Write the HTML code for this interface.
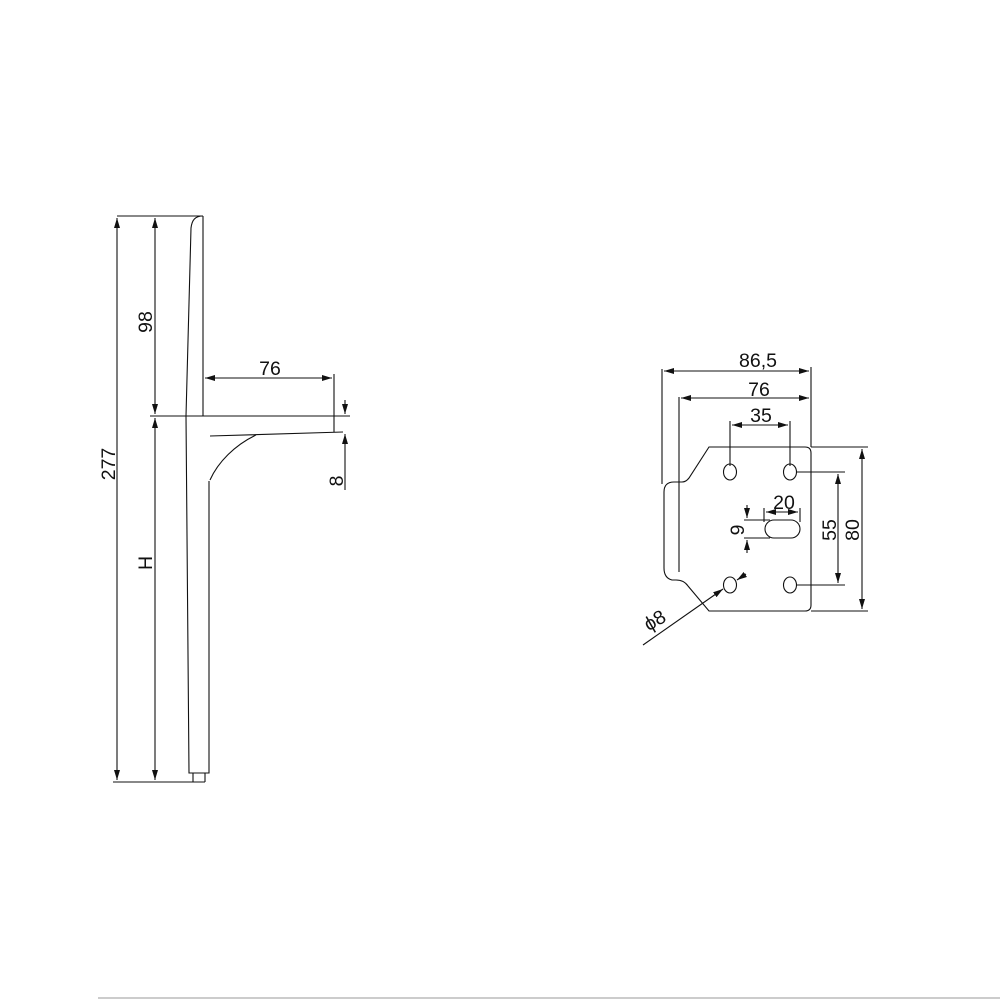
<!DOCTYPE html>
<html><head><style>body{margin:0;background:#fff}svg{display:block}</style></head><body>
<svg width="1000" height="1000" viewBox="0 0 1000 1000" font-family="Liberation Sans, sans-serif" font-size="19.5" fill="none" stroke="#111" stroke-width="1.1">
<defs>
<marker id="a" viewBox="0 0 10 6" refX="10" refY="3" markerWidth="10" markerHeight="6" orient="auto-start-reverse" markerUnits="userSpaceOnUse"><path d="M0,0 L10,3 L0,6z" fill="#111" stroke="none"/></marker>
</defs>
<line x1="117" y1="216" x2="203" y2="216"/>
<line x1="117" y1="218" x2="117" y2="780" marker-start="url(#a)" marker-end="url(#a)"/>
<line x1="155" y1="218" x2="155" y2="414" marker-start="url(#a)" marker-end="url(#a)"/>
<line x1="155" y1="418" x2="155" y2="780" marker-start="url(#a)" marker-end="url(#a)"/>
<line x1="113" y1="782" x2="205" y2="782"/>
<path d="M203,216 C195,216 192,220 191,228 L186,416 L189,773 L209,773 L209,481"/>
<line x1="203" y1="216" x2="203" y2="416"/>
<path d="M193,773 L193,782 M205,773 L205,782"/>
<line x1="150" y1="416" x2="350" y2="416"/>
<path d="M210,436 L343,432 M256,435 C235,445 218,462 210,480"/>
<line x1="205" y1="378" x2="332" y2="378" marker-start="url(#a)" marker-end="url(#a)"/>
<line x1="334" y1="374" x2="334" y2="432"/>
<line x1="345" y1="400" x2="345" y2="414" marker-end="url(#a)"/>
<line x1="345" y1="490" x2="345" y2="434" marker-end="url(#a)"/>
<g fill="#111" stroke="none">
<text x="270" y="375" text-anchor="middle">76</text>
<text transform="translate(152,322) rotate(-90)" text-anchor="middle">98</text>
<text transform="translate(115,464) rotate(-90)" text-anchor="middle">277</text>
<text transform="translate(152,563) rotate(-90)" text-anchor="middle">H</text>
<text transform="translate(343,481) rotate(-90)" text-anchor="middle">8</text>
</g>
<path d="M709,447 L805,447 Q811,447 811,453 L811,605 Q811,611 805,611 L709,611 L688,586 Q684,580 676,580 L672,580 Q664,578 664,568 L664,492 Q664,482 674,482 L682,482 Q686,482 689,478 Z"/>
<line x1="679" y1="397" x2="679" y2="572"/>
<line x1="662" y1="369" x2="662" y2="484"/>
<line x1="811" y1="367" x2="811" y2="447"/>
<line x1="730" y1="421" x2="730" y2="466"/>
<line x1="790" y1="421" x2="790" y2="466"/>
<line x1="664" y1="371" x2="809" y2="371" marker-start="url(#a)" marker-end="url(#a)"/>
<line x1="681" y1="398" x2="809" y2="398" marker-start="url(#a)" marker-end="url(#a)"/>
<line x1="732" y1="425" x2="788" y2="425" marker-start="url(#a)" marker-end="url(#a)"/>
<ellipse cx="730" cy="472" rx="6.5" ry="8"/>
<ellipse cx="790" cy="472" rx="6.5" ry="8"/>
<ellipse cx="730" cy="585" rx="6.5" ry="8"/>
<ellipse cx="790" cy="585" rx="6.5" ry="8"/>
<rect x="765" y="520" width="35" height="18" rx="9"/>
<line x1="764" y1="508" x2="764" y2="522"/>
<line x1="800" y1="508" x2="800" y2="522"/>
<line x1="766" y1="512" x2="798" y2="512" marker-start="url(#a)" marker-end="url(#a)"/>
<line x1="744" y1="520" x2="770" y2="520"/>
<line x1="744" y1="538" x2="770" y2="538"/>
<line x1="747" y1="505" x2="747" y2="518" marker-end="url(#a)"/>
<line x1="747" y1="553" x2="747" y2="540" marker-end="url(#a)"/>
<line x1="796" y1="472" x2="845" y2="472"/>
<line x1="796" y1="585" x2="845" y2="585"/>
<line x1="811" y1="447" x2="868" y2="447"/>
<line x1="811" y1="611" x2="868" y2="611"/>
<line x1="838" y1="474" x2="838" y2="583" marker-start="url(#a)" marker-end="url(#a)"/>
<line x1="862" y1="449" x2="862" y2="609" marker-start="url(#a)" marker-end="url(#a)"/>
<line x1="643" y1="645" x2="723" y2="589" marker-end="url(#a)"/>
<line x1="746" y1="574" x2="737" y2="580" marker-end="url(#a)"/>
<g fill="#111" stroke="none">
<text x="758" y="367" text-anchor="middle">86,5</text>
<text x="759" y="396" text-anchor="middle">76</text>
<text x="761" y="422" text-anchor="middle">35</text>
<text x="784" y="509" text-anchor="middle">20</text>
<text transform="translate(744,530) rotate(-90)" text-anchor="middle">9</text>
<text transform="translate(836,530) rotate(-90)" text-anchor="middle">55</text>
<text transform="translate(859,530) rotate(-90)" text-anchor="middle">80</text>
<text transform="translate(658,626) rotate(-30)" text-anchor="middle">ϕ8</text>
</g>
<line x1="98" y1="998" x2="1000" y2="998" stroke="#999"/>
</svg>
</body></html>
